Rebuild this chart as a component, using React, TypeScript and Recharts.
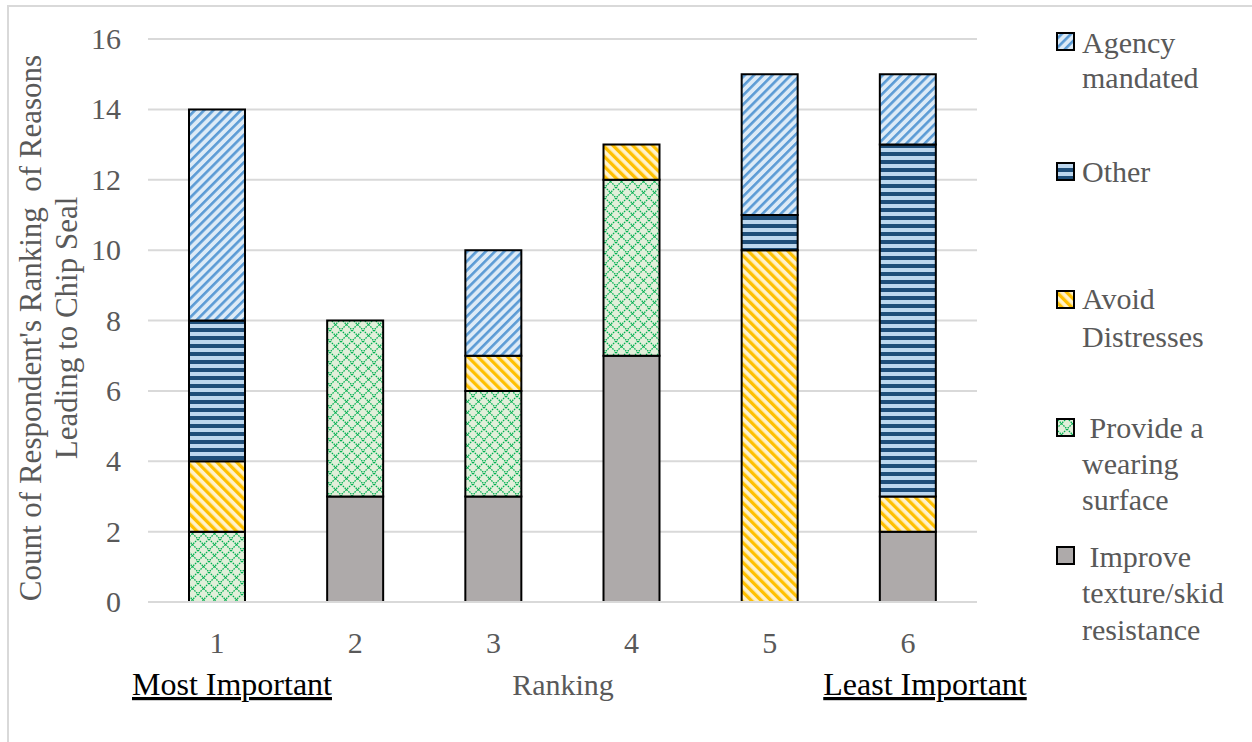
import React from 'react';
import { BarChart, Bar, XAxis, YAxis, CartesianGrid } from 'recharts';

const categories = ['1', '2', '3', '4', '5', '6'];
const texture = [0, 3, 3, 7, 0, 2];
const wearing = [2, 5, 3, 5, 0, 0];
const avoid = [2, 0, 1, 1, 10, 1];
const other = [4, 0, 0, 0, 1, 10];
const agency = [6, 0, 3, 0, 4, 2];
const yTicks = [0, 2, 4, 6, 8, 10, 12, 14, 16];

const data = categories.map((name, i) => ({
  name,
  texture: texture[i],
  wearing: wearing[i],
  avoid: avoid[i],
  other: other[i],
  agency: agency[i],
}));

const FONT = "'Liberation Serif', 'Times New Roman', serif";
const GREY = '#595959';

const series = [
  { key: 'texture', fill: '#AEAAAA' },
  { key: 'wearing', fill: 'url(#pWearing)' },
  { key: 'avoid', fill: 'url(#pAvoid)' },
  { key: 'other', fill: 'url(#pOther)' },
  { key: 'agency', fill: 'url(#pAgency)' },
];

const legend = [
  { fill: 'url(#pAgency)', box: 33, lines: [['Agency', 53], ['mandated', 88]] },
  { fill: 'url(#pOther)', box: 163, lines: [['Other', 182]] },
  { fill: 'url(#pAvoid)', box: 291, lines: [['Avoid', 309], ['Distresses', 347]] },
  { fill: 'url(#pWearing)', box: 419, lines: [[' Provide a', 438], ['wearing', 474], ['surface', 510]] },
  { fill: '#AEAAAA', box: 547, lines: [[' Improve', 567], ['texture/skid', 603], ['resistance', 640]] },
];

const txt = (size: number, color: string) => ({ fontFamily: FONT, fontSize: size, fill: color, whiteSpace: 'pre' as const });

function XTick({ x, y, payload }: any) {
  return <text x={x} y={y} dy={22} textAnchor="middle" style={txt(30, GREY)}>{payload.value}</text>;
}
function YTick({ x, y, payload }: any) {
  return <text x={x} y={y} dy={10} textAnchor="end" style={txt(30, GREY)}>{payload.value}</text>;
}

function Patterns() {
  return (
    <svg width={0} height={0} style={{ position: 'absolute' }}>
      <defs>
        <pattern id="pAgency" patternUnits="userSpaceOnUse" width={6.5} height={6.5} patternTransform="rotate(45)">
          <rect width={6.5} height={6.5} fill="#DDEBF7" />
          <rect width={2.6} height={6.5} fill="#5B9BD5" />
        </pattern>
        <pattern id="pOther" patternUnits="userSpaceOnUse" width={8} height={8}>
          <rect width={8} height={8} fill="#BDD7EE" />
          <rect width={8} height={4} fill="#1F4E79" />
        </pattern>
        <pattern id="pAvoid" patternUnits="userSpaceOnUse" width={7} height={7} patternTransform="rotate(-45)">
          <rect width={7} height={7} fill="#FFF2CC" />
          <rect width={3.3} height={7} fill="#FFC000" />
        </pattern>
        <pattern id="pWearing" patternUnits="userSpaceOnUse" width={11} height={11}>
          <rect width={11} height={11} fill="#E2EFDA" />
          <path d="M0,0 L11,11 M11,0 L0,11" stroke="#00B050" strokeWidth={1.3} strokeDasharray="1.6 1" />
        </pattern>
      </defs>
    </svg>
  );
}

export default function App() {
  return (
    <div style={{ position: 'absolute', left: 0, top: 0, width: 1252, height: 742, background: '#fff', fontFamily: FONT }}>
      <style>{`#root, #root * { font-family: 'Liberation Serif', 'Times New Roman', serif !important; }`}</style>
      <Patterns />
      <div style={{ position: 'absolute', left: 7, top: 5, width: 1245, height: 737, borderLeft: '2px solid #d9d9d9', borderTop: '2px solid #d9d9d9' }} />
      <div style={{ position: 'absolute', left: 0, top: 0 }}>
        <BarChart width={1252} height={742} data={data} margin={{ top: 39, right: 275, bottom: 100, left: 88 }} barSize={56}>
          <CartesianGrid vertical={false} stroke="#d9d9d9" strokeWidth={2} />
          <XAxis dataKey="name" height={40} tickSize={0} tickMargin={29} axisLine={{ stroke: '#d9d9d9', strokeWidth: 2 }} tick={<XTick />} />
          <YAxis width={60} domain={[0, 16]} ticks={yTicks} tickSize={0} tickMargin={27} axisLine={false} tick={<YTick />} />
          {series.map(s => (
            <Bar key={s.key} dataKey={s.key} stackId="a" fill={s.fill} stroke="#000" strokeWidth={2} isAnimationActive={false} />
          ))}
        </BarChart>
      </div>
      <svg width={1252} height={742} style={{ position: 'absolute', left: 0, top: 0, pointerEvents: 'none' }}>
        <g transform="translate(0,328) rotate(-90)">
          <text x={0} y={41} textAnchor="middle" style={txt(31, GREY)}>Count of Respondent's Ranking  of Reasons</text>
          <text x={0} y={77} textAnchor="middle" style={txt(31, GREY)}>Leading to Chip Seal</text>
        </g>
        <text x={563} y={695} textAnchor="middle" style={txt(30, GREY)}>Ranking</text>
        <text x={232} y={695} textAnchor="middle" style={{ ...txt(32, '#000'), textDecoration: 'underline' }}>Most Important</text>
        <text x={925} y={695} textAnchor="middle" style={{ ...txt(32, '#000'), textDecoration: 'underline' }}>Least Important</text>
        {legend.map((l, i) => (
          <g key={i}>
            <rect x={1057} y={l.box} width={17} height={17} fill={l.fill} stroke="#000" strokeWidth={2} />
            {l.lines.map(([t, y], j) => (
              <text key={j} x={1082} y={y as number} style={txt(30, GREY)}>{t}</text>
            ))}
          </g>
        ))}
      </svg>
    </div>
  );
}
